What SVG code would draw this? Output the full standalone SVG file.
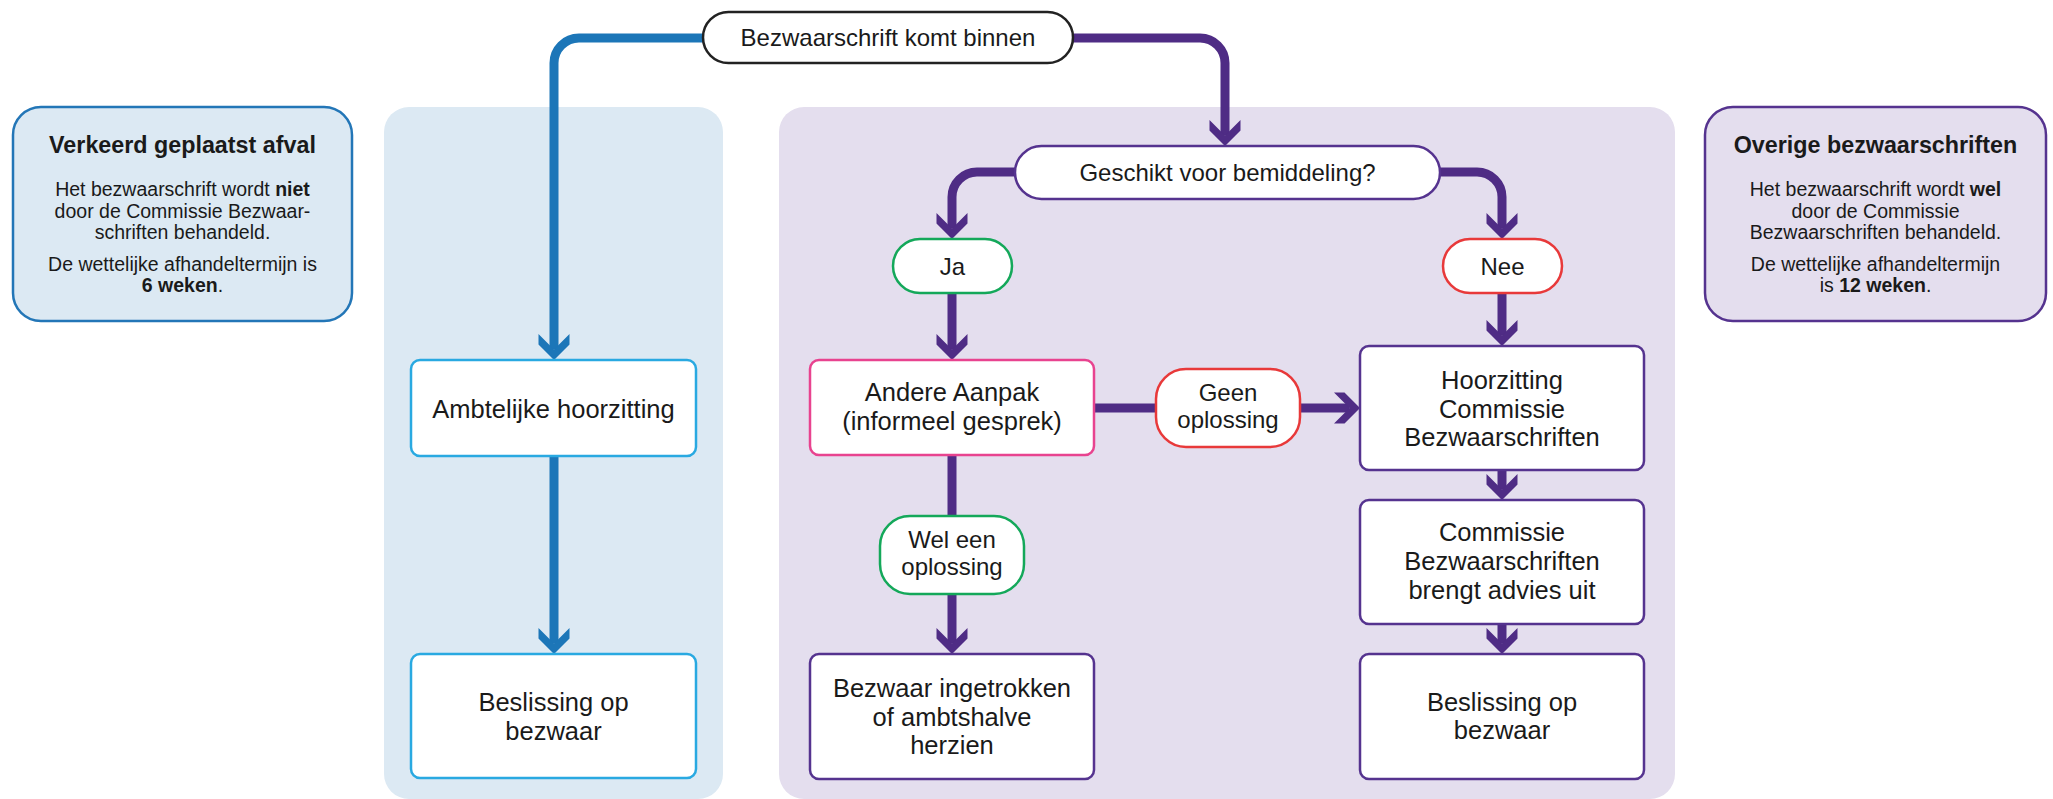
<svg xmlns="http://www.w3.org/2000/svg" width="2053" height="799" viewBox="0 0 2053 799">
<defs>
<style>
text{font-family:"Liberation Sans",Arial,sans-serif;fill:#1a1a1a;text-anchor:middle}
.box{font-size:25.5px}
.pill{font-size:24px}
.title{font-size:23.3px;font-weight:bold}
.body{font-size:19.5px}
.b{font-weight:bold}
.blue{fill:none;stroke:#1c76b8;stroke-width:9}
.purple{fill:none;stroke:#4f2c85;stroke-width:9}
.nb{fill:#fff;stroke:#29a9e1;stroke-width:2.5}
.np{fill:#fff;stroke:#55338f;stroke-width:2.5}
.npink{fill:#fff;stroke:#e8438f;stroke-width:2.5}
.ngreen{fill:#fff;stroke:#14a85a;stroke-width:2.5}
.nred{fill:#fff;stroke:#e8393a;stroke-width:2.5}
</style>
<marker id="ab" markerUnits="userSpaceOnUse" viewBox="-20 -20 40 40" markerWidth="40" markerHeight="40" refX="0" refY="0" orient="auto" overflow="visible">
<path d="M10.5 0 L-5 -15.5 L-15.5 -15.5 L0 0 L-15.5 15.5 L-5 15.5 Z" fill="#1c76b8"/>
</marker>
<marker id="ap" markerUnits="userSpaceOnUse" viewBox="-20 -20 40 40" markerWidth="40" markerHeight="40" refX="0" refY="0" orient="auto" overflow="visible">
<path d="M10.5 0 L-5 -15.5 L-15.5 -15.5 L0 0 L-15.5 15.5 L-5 15.5 Z" fill="#4f2c85"/>
</marker>
</defs>
<rect width="2053" height="799" fill="#ffffff"/>
<g id="panel-blue"><rect x="384" y="107" width="339" height="692" rx="25" fill="#dce9f3"/></g>
<g id="panel-purple"><rect x="779" y="107" width="896" height="692" rx="25" fill="#e4deee"/></g>

<g id="info-left">
<rect x="13" y="107" width="339" height="214" rx="28" fill="#dce9f3" stroke="#2376b7" stroke-width="2.5"/>
<text class="title" x="182.5" y="153">Verkeerd geplaatst afval</text>
<text class="body" x="182.5" y="196">Het bezwaarschrift wordt <tspan class="b">niet</tspan></text>
<text class="body" x="182.5" y="217.5">door de Commissie Bezwaar-</text>
<text class="body" x="182.5" y="239">schriften behandeld.</text>
<text class="body" x="182.5" y="270.5">De wettelijke afhandeltermijn is</text>
<text class="body" x="182.5" y="292"><tspan class="b">6 weken</tspan>.</text>
</g>

<g id="info-right">
<rect x="1705" y="107" width="341" height="214" rx="28" fill="#e4deee" stroke="#55338f" stroke-width="2.5"/>
<text class="title" x="1875.5" y="153">Overige bezwaarschriften</text>
<text class="body" x="1875.5" y="196">Het bezwaarschrift wordt <tspan class="b">wel</tspan></text>
<text class="body" x="1875.5" y="217.5">door de Commissie</text>
<text class="body" x="1875.5" y="239">Bezwaarschriften behandeld.</text>
<text class="body" x="1875.5" y="270.5">De wettelijke afhandeltermijn</text>
<text class="body" x="1875.5" y="292">is <tspan class="b">12 weken</tspan>.</text>
</g>

<g id="connectors">
<path class="blue" d="M703 38 H579 A25 25 0 0 0 554 63 V349.5" marker-end="url(#ab)"/>
<path class="blue" d="M554 456 V643.5" marker-end="url(#ab)"/>
<path class="purple" d="M1073 38 H1200 A25 25 0 0 1 1225 63 V135.5" marker-end="url(#ap)"/>
<path class="purple" d="M1015 172 H977 A25 25 0 0 0 952 197 V228.5" marker-end="url(#ap)"/>
<path class="purple" d="M1440 172 H1477 A25 25 0 0 1 1502 197 V228.5" marker-end="url(#ap)"/>
<path class="purple" d="M952 293 V349.5" marker-end="url(#ap)"/>
<path class="purple" d="M1502 293 V335.5" marker-end="url(#ap)"/>
<path class="purple" d="M1094 408 H1156"/>
<path class="purple" d="M1300 408 H1349.5" marker-end="url(#ap)"/>
<path class="purple" d="M952 455 V516"/>
<path class="purple" d="M952 594 V643.5" marker-end="url(#ap)"/>
<path class="purple" d="M1502 470 V489.5" marker-end="url(#ap)"/>
<path class="purple" d="M1502 624 V643.5" marker-end="url(#ap)"/>
</g>

<g id="start">
<rect x="703" y="12" width="370" height="51" rx="25.5" fill="#fff" stroke="#222" stroke-width="2.5"/>
<text class="pill" x="888" y="46">Bezwaarschrift komt binnen</text>
</g>

<g id="ambtelijke">
<rect x="411" y="360" width="285" height="96" rx="9" class="nb"/>
<text class="box" x="553.5" y="417.5">Ambtelijke hoorzitting</text>
</g>
<g id="beslissing-left">
<rect x="411" y="654" width="285" height="124" rx="9" class="nb"/>
<text class="box" x="553.5" y="711">Beslissing op</text>
<text class="box" x="553.5" y="739.5">bezwaar</text>
</g>

<g id="geschikt">
<rect x="1015" y="146" width="425" height="53" rx="26.5" class="np"/>
<text class="pill" x="1227.5" y="181">Geschikt voor bemiddeling?</text>
</g>
<g id="ja">
<rect x="893" y="239" width="119" height="54" rx="27" class="ngreen"/>
<text class="pill" x="952.5" y="274.5">Ja</text>
</g>
<g id="nee">
<rect x="1443" y="239" width="119" height="54" rx="27" class="nred"/>
<text class="pill" x="1502.5" y="274.5">Nee</text>
</g>
<g id="andere">
<rect x="810" y="360" width="284" height="95" rx="9" class="npink"/>
<text class="box" x="952" y="401">Andere Aanpak</text>
<text class="box" x="952" y="430">(informeel gesprek)</text>
</g>
<g id="geen">
<rect x="1156" y="369" width="144" height="78" rx="30" class="nred"/>
<text class="pill" x="1228" y="401">Geen</text>
<text class="pill" x="1228" y="428">oplossing</text>
</g>
<g id="wel">
<rect x="880" y="516" width="144" height="78" rx="30" class="ngreen"/>
<text class="pill" x="952" y="548">Wel een</text>
<text class="pill" x="952" y="575">oplossing</text>
</g>
<g id="bezwaar">
<rect x="810" y="654" width="284" height="125" rx="9" class="np"/>
<text class="box" x="952" y="697">Bezwaar ingetrokken</text>
<text class="box" x="952" y="725.5">of ambtshalve</text>
<text class="box" x="952" y="754">herzien</text>
</g>
<g id="hoorzitting">
<rect x="1360" y="346" width="284" height="124" rx="9" class="np"/>
<text class="box" x="1502" y="389">Hoorzitting</text>
<text class="box" x="1502" y="417.5">Commissie</text>
<text class="box" x="1502" y="446">Bezwaarschriften</text>
</g>
<g id="commissie">
<rect x="1360" y="500" width="284" height="124" rx="9" class="np"/>
<text class="box" x="1502" y="541">Commissie</text>
<text class="box" x="1502" y="570">Bezwaarschriften</text>
<text class="box" x="1502" y="599">brengt advies uit</text>
</g>
<g id="beslissing-right">
<rect x="1360" y="654" width="284" height="125" rx="9" class="np"/>
<text class="box" x="1502" y="710.5">Beslissing op</text>
<text class="box" x="1502" y="739">bezwaar</text>
</g>
</svg>
